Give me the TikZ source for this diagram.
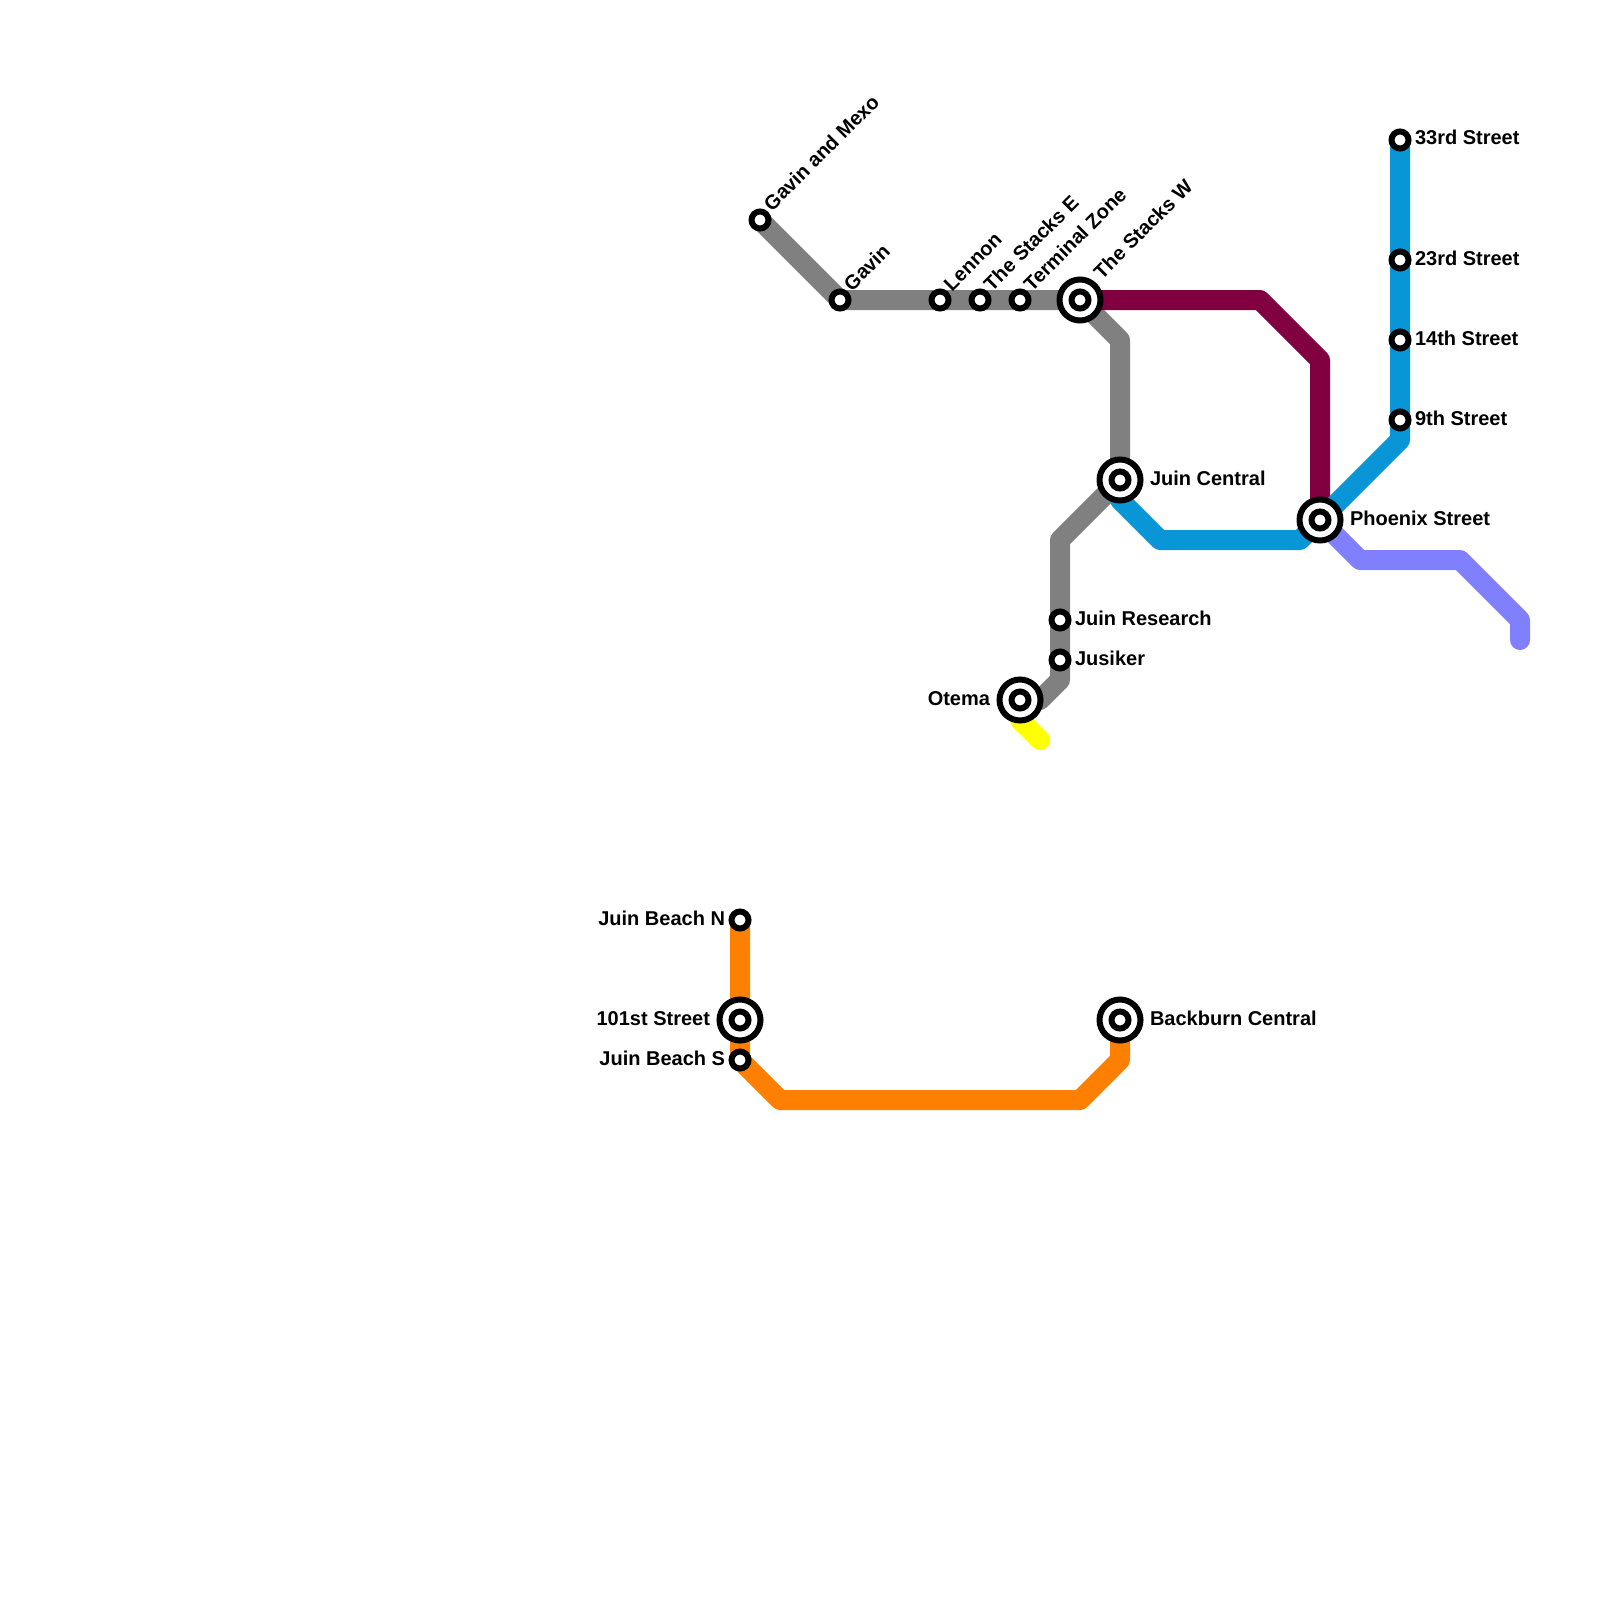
\documentclass[tikz,border=0pt]{standalone}
\usepackage{fontspec}
\setmainfont{Liberation Sans}
\usetikzlibrary{backgrounds}
\definecolor{lgray}{HTML}{808080}
\definecolor{lpurple}{HTML}{800040}
\definecolor{lblue}{HTML}{0896D7}
\definecolor{lperi}{HTML}{8080FF}
\definecolor{lorange}{HTML}{FF8000}
\definecolor{lyellow}{HTML}{FFFF00}
\tikzset{
  stopdot/.style={circle,draw=black,fill=white,line width=6pt,inner sep=0pt,outer sep=0pt,minimum size=17pt},
  stopring/.style={circle,draw=black,fill=white,line width=6pt,inner sep=0pt,outer sep=0pt,minimum size=41pt},
  metro/.style={line width=20pt,line cap=round,line join=round},
  lbl/.style={inner sep=0pt,outer sep=0pt,font=\fontsize{20pt}{24pt}\bfseries\selectfont},
  lblr/.style={lbl,anchor=base west},
  lbll/.style={lbl,anchor=base east},
  lbld/.style={lbl,anchor=base west,rotate=45},
}
\begin{document}
\begin{tikzpicture}[x=1pt,y=-1pt]
\useasboundingbox (0,0) rectangle (1600,1600);
% small stations
\node[stopdot] (mexo) at (760,220) {};
\node[stopdot] (gavin) at (840,300) {};
\node[stopdot] (lennon) at (940,300) {};
\node[stopdot] (stacksE) at (980,300) {};
\node[stopdot] (terminal) at (1020,300) {};
\node[stopdot] (research) at (1060,620) {};
\node[stopdot] (jusiker) at (1060,660) {};
\node[stopdot] (s33) at (1400,140) {};
\node[stopdot] (s23) at (1400,260) {};
\node[stopdot] (s14) at (1400,340) {};
\node[stopdot] (s9) at (1400,420) {};
\node[stopdot] (beachN) at (740,920) {};
\node[stopdot] (beachS) at (740,1060) {};
% interchanges
\node[stopring] (stacksW) at (1080,300) {};
\node[stopdot] at (stacksW.center) {};
\node[stopring] (central) at (1120,480) {};
\node[stopdot] at (central.center) {};
\node[stopring] (phoenix) at (1320,520) {};
\node[stopdot] at (phoenix.center) {};
\node[stopring] (otema) at (1020,700) {};
\node[stopdot] at (otema.center) {};
\node[stopring] (s101) at (740,1020) {};
\node[stopdot] at (s101.center) {};
\node[stopring] (backburn) at (1120,1020) {};
\node[stopdot] at (backburn.center) {};
% bends
\coordinate (g1) at (1120,340);
\coordinate (g2) at (1060,540);
\coordinate (g3) at (1060,680);
\coordinate (g4) at (1040,700);
\coordinate (p1) at (1260,300);
\coordinate (p2) at (1320,360);
\coordinate (b1) at (1400,440);
\coordinate (b2) at (1300,540);
\coordinate (b3) at (1160,540);
\coordinate (b4) at (1120,500);
\coordinate (v1) at (1360,560);
\coordinate (v2) at (1460,560);
\coordinate (v3) at (1520,620);
\coordinate (v4) at (1520,640);
\coordinate (y1) at (1020,720);
\coordinate (y2) at (1040,740);
\coordinate (o1) at (780,1100);
\coordinate (o2) at (1080,1100);
\coordinate (o3) at (1120,1060);
\begin{scope}[on background layer]
\draw[metro,lyellow] (otema.center) -- (y1) -- (y2);
\draw[metro,lgray] (mexo.center) -- (gavin.center) -- (lennon.center) -- (stacksE.center) -- (terminal.center) -- (stacksW.center) -- (g1) -- (central.center) -- (g2) -- (research.center) -- (jusiker.center) -- (g3) -- (g4) -- (otema.center);
\draw[metro,lorange] (beachN.center) -- (s101.center) -- (beachS.center) -- (o1) -- (o2) -- (o3) -- (backburn.center);
\draw[metro,lpurple] (stacksW.center) -- (p1) -- (p2) -- (phoenix.center);
\draw[metro,lperi] (phoenix.center) -- (v1) -- (v2) -- (v3) -- (v4);
\draw[metro,lblue] (s33.center) -- (s23.center) -- (s14.center) -- (s9.center) -- (b1) -- (phoenix.center) -- (b2) -- (b3) -- (b4) -- (central.center);
\end{scope}
% labels
\node[lbld] (tmexo) at (772,212) {Gavin and Mexo};
\node[lbld] (tgavin) at (852,292) {Gavin};
\node[lbld] (tlennon) at (952,292) {Lennon};
\node[lbld] (tstacksE) at (992,292) {The Stacks E};
\node[lbld] (tterminal) at (1032,292) {Terminal Zone};
\node[lbld] (tstacksW) at (1102,280) {The Stacks W};
\node[lblr] (tcentral) at (1150,485) {Juin Central};
\node[lblr] (tphoenix) at (1350,525) {Phoenix Street};
\node[lblr] (tresearch) at (1075,625) {Juin Research};
\node[lblr] (tjusiker) at (1075,665) {Jusiker};
\node[lblr] (t33) at (1415,145) {33rd Street};
\node[lblr] (t23) at (1415,265) {23rd Street};
\node[lblr] (t14) at (1415,345) {14th Street};
\node[lblr] (t9) at (1415,425) {9th Street};
\node[lblr] (tbackburn) at (1150,1025) {Backburn Central};
\node[lbll] (totema) at (990,705) {Otema};
\node[lbll] (tbeachN) at (725,925) {Juin Beach N};
\node[lbll] (t101) at (710,1025) {101st Street};
\node[lbll] (tbeachS) at (725,1065) {Juin Beach S};
\end{tikzpicture}
\end{document}
